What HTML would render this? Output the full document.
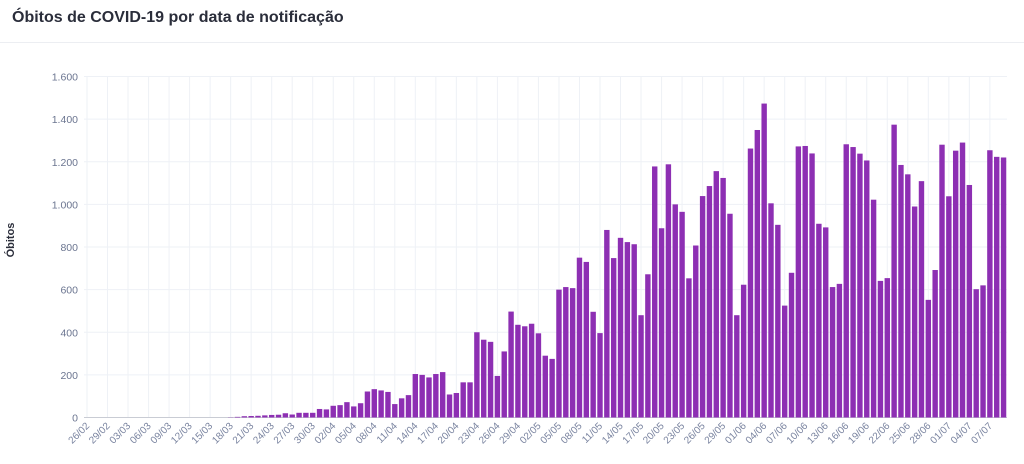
<!DOCTYPE html>
<html><head><meta charset="utf-8"><style>
html,body{margin:0;padding:0;background:#fff;width:1024px;height:464px;overflow:hidden}
</style></head><body>
<svg id="s" width="1024" height="464" xmlns="http://www.w3.org/2000/svg" font-family="Liberation Sans, sans-serif">
<text x="12" y="22" font-size="16" font-weight="bold" fill="#2a2d3a">Óbitos de COVID-19 por data de notificação</text>
<line x1="0" y1="42.5" x2="1024" y2="42.5" stroke="#eceef2"/>
<text transform="translate(14,240) rotate(-90)" text-anchor="middle" font-size="11" font-weight="bold" fill="#2a2d3a">Óbitos</text>
<g id="g"></g>
</svg>
<script>
var v=[0,0,0,0,0,0,0,0,0,0,0,0,0,0,0,0,0,0,0,0,0,
1,3,6,7,8,10,12,13,20,14,22,22,22,40,
38,55,58,72,52,67,122,133,127,120,63,90,105,204,200,188,204,213,108,115,165,165,400,365,355,195,310,497,435,428,
440,395,290,275,600,612,607,750,730,496,396,880,748,843,823,813,480,672,1178,888,1188,1000,965,653,807,1039,1086,1156,1124,956,480,
623,1262,1349,1473,1005,904,525,679,1272,1274,1239,909,892,612,627,1282,1269,1238,1206,1022,641,654,1374,1185,1141,990,1109,552,692,1280,
1038,1252,1290,1091,602,620,1254,1223,1220];
var g=document.getElementById('g'),h='';
var x0=87,dx=6.84,y0=417.5,k=341/1600;
// horizontal grid
for(var t=0;t<=1600;t+=200){var y=y0-t*k;
 if(t>0)h+='<line x1="84" x2="1007" y1="'+y+'" y2="'+y+'" stroke="#eef1f6"/>';
 h+='<text x="78" y="'+(y+4)+'" font-size="10.5" fill="#6b7590" text-anchor="end">'+(t>=1000?(Math.floor(t/1000)+'.'+String(t%1000).padStart(3,'0')):t)+'</text>';}
var months=[[2,26,29],[3,1,31],[4,1,30],[5,1,31],[6,1,30],[7,1,9]],dates=[];
months.forEach(function(m){for(var d=m[1];d<=m[2];d++)dates.push((d<10?'0':'')+d+'/0'+m[0]);});
for(var i=0;i<v.length;i+=3){var x=x0+i*dx;
 h+='<line x1="'+x+'" x2="'+x+'" y1="77" y2="'+y0+'" stroke="#eef1f6"/>';
 h+='<text transform="translate('+(x+3)+','+(y0+9)+') rotate(-45)" text-anchor="end" font-size="10" fill="#7a84a0">'+dates[i]+'</text>';}
h+='<line x1="84" x2="1007" y1="'+y0+'" y2="'+y0+'" stroke="#c9ccd4"/>';
for(var i=0;i<v.length;i++){var x=x0+i*dx,hh=v[i]*k;
 if(hh>0)h+='<rect x="'+(x-2.7)+'" y="'+(y0-hh)+'" width="5.4" height="'+hh+'" fill="#8d2fb3"/>';}
g.innerHTML=h;
</script>
</body></html>
